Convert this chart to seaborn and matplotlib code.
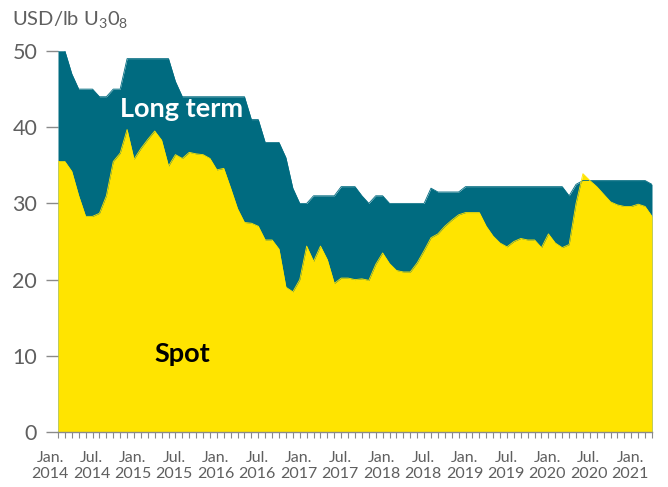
import numpy as np
import pandas as pd
import seaborn as sns
import matplotlib.pyplot as plt
from matplotlib.transforms import ScaledTranslation

# monthly prices, Jan 2014 .. Mar 2021 (USD/lb U3O8)
long_term = [50, 50, 47, 45, 45, 45, 44, 44, 45, 45,
             49, 49, 49, 49, 49, 49, 49, 46, 44, 44,
             44, 44, 44, 44, 44, 44, 44, 44, 41, 41,
             38, 38, 38, 36, 32, 30, 30, 31, 31, 31,
             31, 32.2, 32.2, 32.2, 31, 30, 31, 31, 30, 30,
             30, 30, 30, 30, 32, 31.5, 31.5, 31.5, 31.5, 32.2,
             32.2, 32.2, 32.2, 32.2, 32.2, 32.2, 32.2, 32.2, 32.2, 32.2,
             32.2, 32.2, 32.2, 32.2, 31, 32.5, 33, 33, 33, 33,
             33, 33, 33, 33, 33, 33, 32.5]
spot = [35.5, 35.5, 34.2, 31, 28.3, 28.3, 28.7, 31, 35.5, 36.6,
        39.7, 35.8, 37.2, 38.4, 39.5, 38.3, 34.9, 36.4, 35.9, 36.7,
        36.5, 36.4, 35.9, 34.4, 34.6, 32, 29.3, 27.5, 27.4, 27,
        25.2, 25.2, 24, 19, 18.4, 20, 24.4, 22.4, 24.4, 22.6,
        19.5, 20.2, 20.2, 20, 20.1, 19.9, 22, 23.5, 22.1, 21.2,
        21, 21, 22.2, 23.8, 25.5, 26, 27, 27.8, 28.5, 28.8,
        28.8, 28.8, 27, 25.7, 24.8, 24.3, 25, 25.4, 25.2, 25.2,
        24.2, 26, 24.8, 24.2, 24.6, 30, 33.9, 33, 32.2, 31.2,
        30.2, 29.8, 29.6, 29.6, 29.9, 29.6, 28.3]
tick_labels = ["Jan.\n2014", "Jul.\n2014", "Jan.\n2015", "Jul.\n2015", "Jan.\n2016",
               "Jul.\n2016", "Jan.\n2017", "Jul.\n2017", "Jan.\n2018", "Jul.\n2018",
               "Jan.\n2019", "Jul.\n2019", "Jan.\n2020", "Jul.\n2020", "Jan.\n2021"]

df = pd.DataFrame({"month": np.arange(len(spot)), "long_term": long_term, "spot": spot})

teal = "#006B80"
yellow = "#FFE400"
grey = "#5f5f5f"

sns.set_style("white")
plt.rcParams['font.family'] = ['Lato', 'DejaVu Sans']

fig = plt.figure(figsize=(6.68, 4.87), dpi=100)
ax = fig.add_axes([58 / 668, 55 / 487, 594 / 668, 381 / 487])

# areas
ax.fill_between(df["month"], 0, df["long_term"], color=teal, lw=0)
sns.lineplot(data=df, x="month", y="long_term", color=teal, lw=0.6, ax=ax)
ax.fill_between(df["month"], 0, df["spot"], color=yellow, lw=0)
sns.lineplot(data=df, x="month", y="spot", color=yellow, lw=0.6, ax=ax)

ax.set_xlim(0, len(spot) - 1)
ax.set_ylim(0, 50)
ax.set_xlabel("")
ax.set_ylabel("")

ax.set_yticks(range(0, 51, 10))
ax.tick_params(axis="y", left=True, length=9, width=1, color="#8a8a8a",
               labelsize=15.5, labelcolor=grey, pad=6)

ax.set_xticks(range(0, 85, 6))
ax.set_xticks(range(0, len(spot)), minor=True)
ax.set_xticklabels(tick_labels, fontsize=11.5, color=grey, linespacing=1.15)
ax.tick_params(axis="x", which="both", bottom=True, length=4, width=0.8,
               color="#8a8a8a", pad=10)
shift = ScaledTranslation(-8 / 100, 0, fig.dpi_scale_trans)
for lab in ax.get_xticklabels():
    lab.set_transform(lab.get_transform() + shift)

for s in ["top", "right", "left"]:
    ax.spines[s].set_visible(False)
ax.spines["bottom"].set_color("#8a8a8a")
ax.spines["bottom"].set_linewidth(1)

ax.text(17.9, 42.4, "Long term", color="white", fontsize=19.5, fontweight="bold",
        ha="center", va="center")
ax.text(18, 10.2, "Spot", color="black", fontsize=19.5, fontweight="bold",
        ha="center", va="center")

fig.text(12 / 668, 1 - 20 / 487, r"USD/lb U$_\mathregular{3}$0$_\mathregular{8}$",
         fontsize=14.5, color=grey, va="center", ha="left")

fig.savefig("out.png", dpi=100)
